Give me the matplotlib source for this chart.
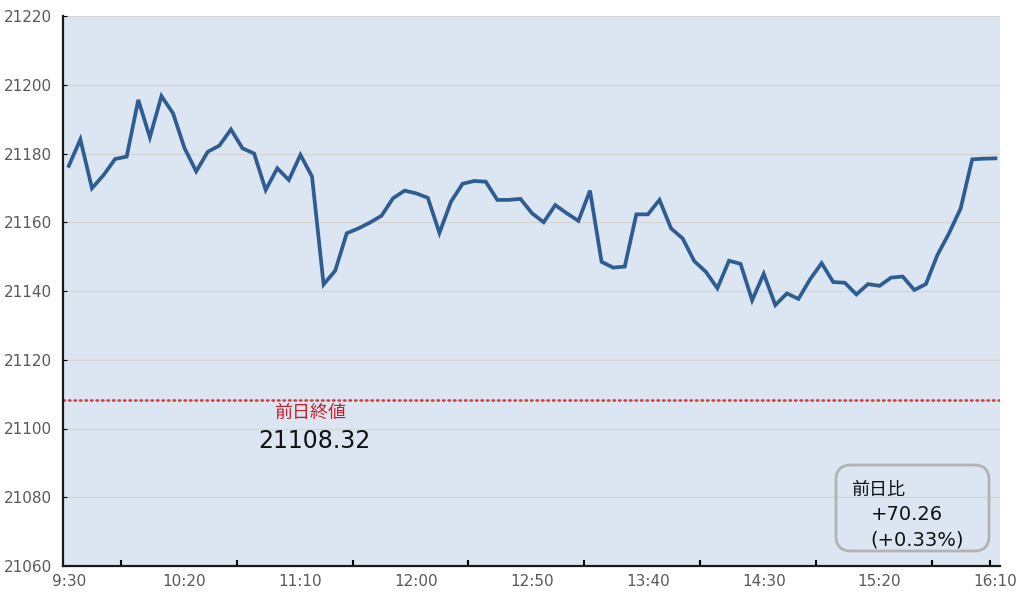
import matplotlib.pyplot as plt
from matplotlib.patches import FancyBboxPatch

# 5-minute closing values, 9:30 - 16:10
prices = [21176.4, 21184.1, 21169.9, 21173.7, 21178.4, 21179.1, 21195.6, 21184.7, 21196.7, 21191.7,
          21181.5, 21174.8, 21180.5, 21182.3, 21187.0, 21181.5, 21180.0, 21169.4, 21175.7, 21172.3,
          21179.6, 21173.3, 21141.9, 21145.9, 21156.8, 21158.2, 21159.9, 21161.9, 21167.0, 21169.2,
          21168.4, 21167.1, 21156.9, 21166.0, 21171.2, 21172.0, 21171.8, 21166.5, 21166.5, 21166.8,
          21162.6, 21160.0, 21165.0, 21162.6, 21160.4, 21169.2, 21148.5, 21146.8, 21147.1, 21162.3,
          21162.3, 21166.5, 21158.2, 21155.3, 21148.7, 21145.6, 21140.8, 21148.8, 21147.9, 21137.3,
          21145.0, 21135.9, 21139.3, 21137.7, 21143.4, 21148.1, 21142.6, 21142.4, 21139.0, 21142.0,
          21141.5, 21143.9, 21144.2, 21140.3, 21142.0, 21150.5, 21156.8, 21164.0, 21178.3, 21178.5,
          21178.58]
tick_labels = ["9:30", "10:20", "11:10", "12:00", "12:50", "13:40", "14:30", "15:20", "16:10"]
prev_close = 21108.32
change = 70.26
change_pct = 0.33

jp = ["Noto Sans CJK JP", "DejaVu Sans"]

fig = plt.figure(figsize=(10.28, 5.96), dpi=100)
ax = fig.add_axes([63 / 1028, 30 / 596, 937 / 1028, 550 / 596])
ax.set_facecolor("#dce6f2")

x = range(len(prices))
ax.plot(x, prices, color="#2f5d92", lw=2.7, solid_joinstyle="miter", zorder=3)
ax.axhline(prev_close, color="#d23b3b", lw=1.8, ls=(0, (0.6, 1.6)), dash_capstyle="round", zorder=2)

ax.set_xlim(-0.5, 80.4)
ax.set_ylim(21060, 21220)
ax.set_yticks(range(21060, 21221, 20))
ax.set_xticks(range(0, 81, 10))
ax.set_xticklabels(tick_labels)
ax.set_xticks([4.5 + 10 * k for k in range(8)] + [79.5], minor=True)

ax.grid(axis="y", color="#d6d6d6", lw=1, zorder=1)
ax.set_axisbelow(True)
for s in ["top", "right"]:
    ax.spines[s].set_visible(False)
for s in ["left", "bottom"]:
    ax.spines[s].set_linewidth(1.6)
    ax.spines[s].set_color("#1a1a1a")

ax.tick_params(axis="y", direction="in", length=3, labelsize=11, labelcolor="#595959", pad=8)
ax.tick_params(axis="x", which="major", length=0, labelsize=11, labelcolor="#595959", pad=6)
ax.tick_params(axis="x", which="minor", direction="in", length=4, width=1.5)

ax.text(20.8, 21104.5, "前日終値", color="#c8202a", fontsize=13, family=jp, ha="center", va="center")
ax.text(21.2, 21096.4, f"{prev_close:.2f}", color="#111111", fontsize=17, ha="center", va="center")

box = FancyBboxPatch((8.36, 0.45), 1.53, 0.86, boxstyle="round,pad=0,rounding_size=0.15",
                     transform=fig.dpi_scale_trans, fc="none", ec="#b3b3b3", lw=2)
fig.patches.append(box)
fig.text(851 / 1028, (596 - 490) / 596, "前日比", fontsize=13, family=jp, color="#111111", va="center")
fig.text(871 / 1028, (596 - 515) / 596, f"+{change:.2f}", fontsize=14, color="#111111", va="center")
fig.text(870 / 1028, (596 - 540) / 596, f"(+{change_pct:.2f}%)", fontsize=14, color="#111111", va="center")

plt.savefig("out.png")
